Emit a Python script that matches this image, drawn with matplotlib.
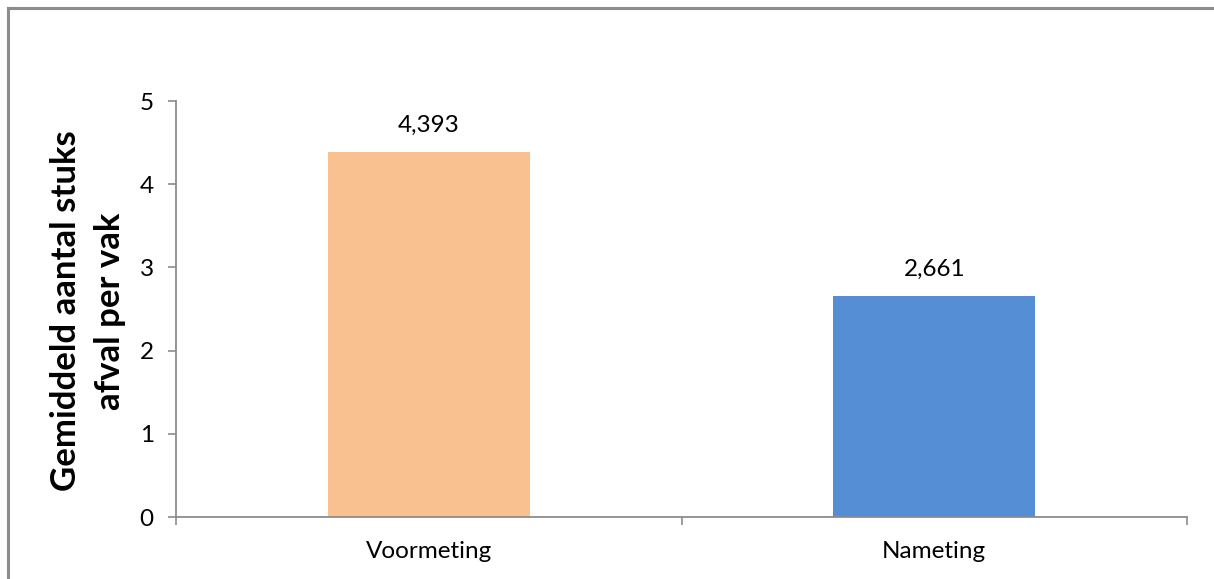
import matplotlib
matplotlib.use("Agg")
import matplotlib.pyplot as plt
from matplotlib.lines import Line2D
from matplotlib.ticker import MultipleLocator, FixedLocator

categories = ["Voormeting", "Nameting"]
values = [4.393, 2.661]
bar_colors = ["#F9C18F", "#558ED5"]
y_label = "Gemiddeld aantal stuks\nafval per vak"

plt.rcParams["font.family"] = ["Lato", "DejaVu Sans"]

W, H = 1214, 579
fig = plt.figure(figsize=(W / 100, H / 100), dpi=100)
ax = fig.add_axes([176 / W, 1 - 517 / H, (1187 - 176) / W, (517 - 101) / H])

x = list(range(len(categories)))
ax.bar(x, values, width=0.40, color=bar_colors, zorder=2)

ax.set_xlim(-0.5, len(categories) - 0.5)
ax.set_ylim(0, 5)
ax.yaxis.set_major_locator(MultipleLocator(1))
ax.set_xticks(x)
ax.set_xticklabels(categories, fontsize=17.5)
ax.xaxis.set_minor_locator(FixedLocator([i - 0.5 for i in range(len(categories) + 1)]))
ax.tick_params(axis="x", which="major", length=0, pad=17)
ax.tick_params(axis="x", which="minor", length=6, width=1.2, color="#8c8c8c", direction="out")
ax.tick_params(axis="y", length=6, width=1.2, color="#8c8c8c", direction="out", labelsize=17.5, pad=10)

for s in ("top", "right"):
    ax.spines[s].set_visible(False)
for s in ("left", "bottom"):
    ax.spines[s].set_color("#8c8c8c")
    ax.spines[s].set_linewidth(1.3)

for xi, v in zip(x, values):
    ax.annotate(f"{v:.3f}".replace(".", ","), (xi, v), xytext=(0, 11),
                textcoords="offset points", ha="center", va="bottom", fontsize=17.5)

fig.text(88 / W, 1 - 311 / H, y_label, rotation=90, ha="center", va="center",
         fontsize=25, fontweight="bold", linespacing=1.45)

# outer chart frame (top and left edges)
frame_kw = dict(color="#8c8c8c", linewidth=2.2, transform=fig.transFigure)
fig.add_artist(Line2D([7.5 / W, 1.01], [1 - 7.5 / H, 1 - 7.5 / H], **frame_kw))
fig.add_artist(Line2D([7.5 / W, 7.5 / W], [1 - 7.5 / H, -0.01], **frame_kw))

fig.savefig("out.png", dpi=100, facecolor="white")
